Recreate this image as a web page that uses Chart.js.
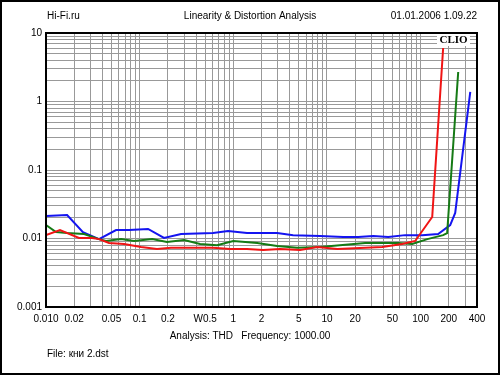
<!DOCTYPE html>
<html>
<head>
<meta charset="utf-8">
<script src="https://cdn.jsdelivr.net/npm/chart.js@4/dist/chart.umd.min.js"></script>
<style>
  body { margin: 0; background: #fff; }
  canvas { display: block; }
</style>
</head>
<body>
<canvas id="thdChart" width="500" height="375"></canvas>
<script>
// Tick labels
const xTickValues = [0.01, 0.02, 0.05, 0.1, 0.2, 0.5, 1, 2, 5, 10, 20, 50, 100, 200, 400];
const xTickLabels = ['0.010', '0.02', '0.05', '0.1', '0.2', 'W0.5', '1', '2', '5', '10', '20', '50', '100', '200', '400'];
const yTickValues = [0.001, 0.01, 0.1, 1, 10];
const yTickLabels = ['0.001', '0.01', '0.1', '1', '10'];

// Red curve: output power (W) / THD (%)
const redPower = [0.01, 0.0141, 0.0225, 0.031, 0.0368, 0.0471, 0.0681, 0.1035, 0.153, 0.216, 0.298, 0.608, 0.925, 1.40, 2.08, 3.16, 5.17, 7.86, 12.9, 38.9, 63.6, 87.5, 133, 174];
const redThd = [0.0112, 0.0133, 0.0102, 0.0102, 0.0098, 0.0086, 0.0083, 0.0075, 0.0070, 0.0073, 0.0073, 0.0073, 0.0070, 0.0070, 0.0068, 0.0070, 0.0068, 0.0075, 0.0070, 0.0075, 0.0083, 0.0092, 0.0206, 6.04];

// Green curve
const greenPower = [0.01, 0.0128, 0.0168, 0.0255, 0.0368, 0.0438, 0.0633, 0.0871, 0.136, 0.196, 0.298, 0.442, 0.671, 1.0, 1.80, 2.94, 4.81, 8.46, 25.6, 57.7, 81.3, 118, 174, 192, 252];
const greenThd = [0.0157, 0.0124, 0.0120, 0.0116, 0.0098, 0.0092, 0.0098, 0.0092, 0.0098, 0.0089, 0.0095, 0.0083, 0.0080, 0.0092, 0.0086, 0.0078, 0.0073, 0.0075, 0.0086, 0.0086, 0.0083, 0.0098, 0.0112, 0.0120, 2.70];

// Blue curve
const bluePower = [0.01, 0.0168, 0.0248, 0.0368, 0.056, 0.077, 0.123, 0.182, 0.277, 0.608, 0.88, 1.40, 2.94, 4.35, 8.46, 14.9, 21.5, 31.2, 45.1, 68.4, 104, 154, 207, 234, 339];
const blueThd = [0.0213, 0.0220, 0.0124, 0.0098, 0.0133, 0.0133, 0.0138, 0.0102, 0.0116, 0.0120, 0.0129, 0.0120, 0.0120, 0.0112, 0.0109, 0.0105, 0.0105, 0.0109, 0.0105, 0.0112, 0.0112, 0.0116, 0.0157, 0.0236, 1.38];

const FONT = 'Liberation Sans, Arial, sans-serif';

function toPoints(xs, ys) {
    return xs.map((x, i) => ({ x: x, y: ys[i] }));
}

// grid positions 1..9 x 10^n between min and max
function logGrid(min, max) {
    const values = [];
    for (let e = Math.floor(Math.log10(min)); e <= Math.ceil(Math.log10(max)); e++) {
        for (let j = 1; j <= 9; j++) {
            const v = parseFloat((j * Math.pow(10, e)).toPrecision(6));
            if (v >= min * 0.9999 && v <= max * 1.0001) values.push(v);
        }
    }
    return values;
}

function labelFor(value, values, labels) {
    const i = values.findIndex(v => Math.abs(v - value) / v < 1e-6);
    return i >= 0 ? labels[i] : '';
}

const framePlugin = {
    id: 'frame',
    afterDraw(chart) {
        const ctx = chart.ctx;
        const a = chart.chartArea;
        ctx.save();

        // plot frame
        ctx.strokeStyle = '#000';
        ctx.lineWidth = 2;
        ctx.strokeRect(a.left, a.top, a.right - a.left, a.bottom - a.top);

        // outer border
        ctx.strokeRect(1, 1, chart.width - 2, chart.height - 2);

        // CLIO badge
        ctx.fillStyle = '#fff';
        ctx.fillRect(437, 34, 33, 12);
        ctx.fillStyle = '#000';
        ctx.font = 'bold 11px "Liberation Serif", serif';
        ctx.textAlign = 'center';
        ctx.textBaseline = 'middle';
        ctx.fillText('CLIO', 453.5, 40.5);

        // header
        ctx.font = '10px ' + FONT;
        ctx.textAlign = 'left';
        ctx.fillText('Hi-Fi.ru', 47, 16);
        ctx.textAlign = 'center';
        ctx.fillText('Linearity & Distortion Analysis', 250, 16);
        ctx.textAlign = 'right';
        ctx.fillText('01.01.2006 1.09.22', 477, 16);

        // footer
        ctx.textAlign = 'center';
        ctx.fillText('Analysis: THD   Frequency: 1000.00', 250, 336);
        ctx.textAlign = 'left';
        ctx.fillText('File: кни 2.dst', 47, 354);

        ctx.restore();
    }
};

const lineStyle = {
    borderWidth: 2,
    pointRadius: 0,
    tension: 0,
    fill: false
};

new Chart(document.getElementById('thdChart'), {
    type: 'line',
    data: {
        datasets: [
            { ...lineStyle, label: 'Red', data: toPoints(redPower, redThd), borderColor: '#f01414' },
            { ...lineStyle, label: 'Green', data: toPoints(greenPower, greenThd), borderColor: '#157a15' },
            { ...lineStyle, label: 'Blue', data: toPoints(bluePower, blueThd), borderColor: '#1414f0' }
        ]
    },
    options: {
        responsive: false,
        animation: false,
        events: [],
        layout: {
            padding: { top: 33, right: 23, left: 0, bottom: 0 }
        },
        plugins: {
            legend: { display: false },
            tooltip: { enabled: false }
        },
        scales: {
            x: {
                type: 'logarithmic',
                min: 0.01,
                max: 400,
                afterBuildTicks: scale => {
                    scale.ticks = logGrid(0.01, 400).map(v => ({ value: v }));
                },
                afterFit: scale => { scale.height = 68; },
                grid: { color: '#999999', lineWidth: 1, drawTicks: false },
                border: { display: false },
                ticks: {
                    autoSkip: false,
                    maxRotation: 0,
                    padding: 6,
                    color: '#000',
                    font: { family: FONT, size: 10 },
                    callback: value => labelFor(value, xTickValues, xTickLabels)
                }
            },
            y: {
                type: 'logarithmic',
                min: 0.001,
                max: 10,
                afterBuildTicks: scale => {
                    scale.ticks = logGrid(0.001, 10).map(v => ({ value: v }));
                },
                afterFit: scale => { scale.width = 46; },
                grid: { color: '#999999', lineWidth: 1, drawTicks: false },
                border: { display: false },
                ticks: {
                    autoSkip: false,
                    padding: 4,
                    color: '#000',
                    font: { family: FONT, size: 10 },
                    callback: value => labelFor(value, yTickValues, yTickLabels)
                }
            }
        }
    },
    plugins: [framePlugin]
});
</script>
</body>
</html>
